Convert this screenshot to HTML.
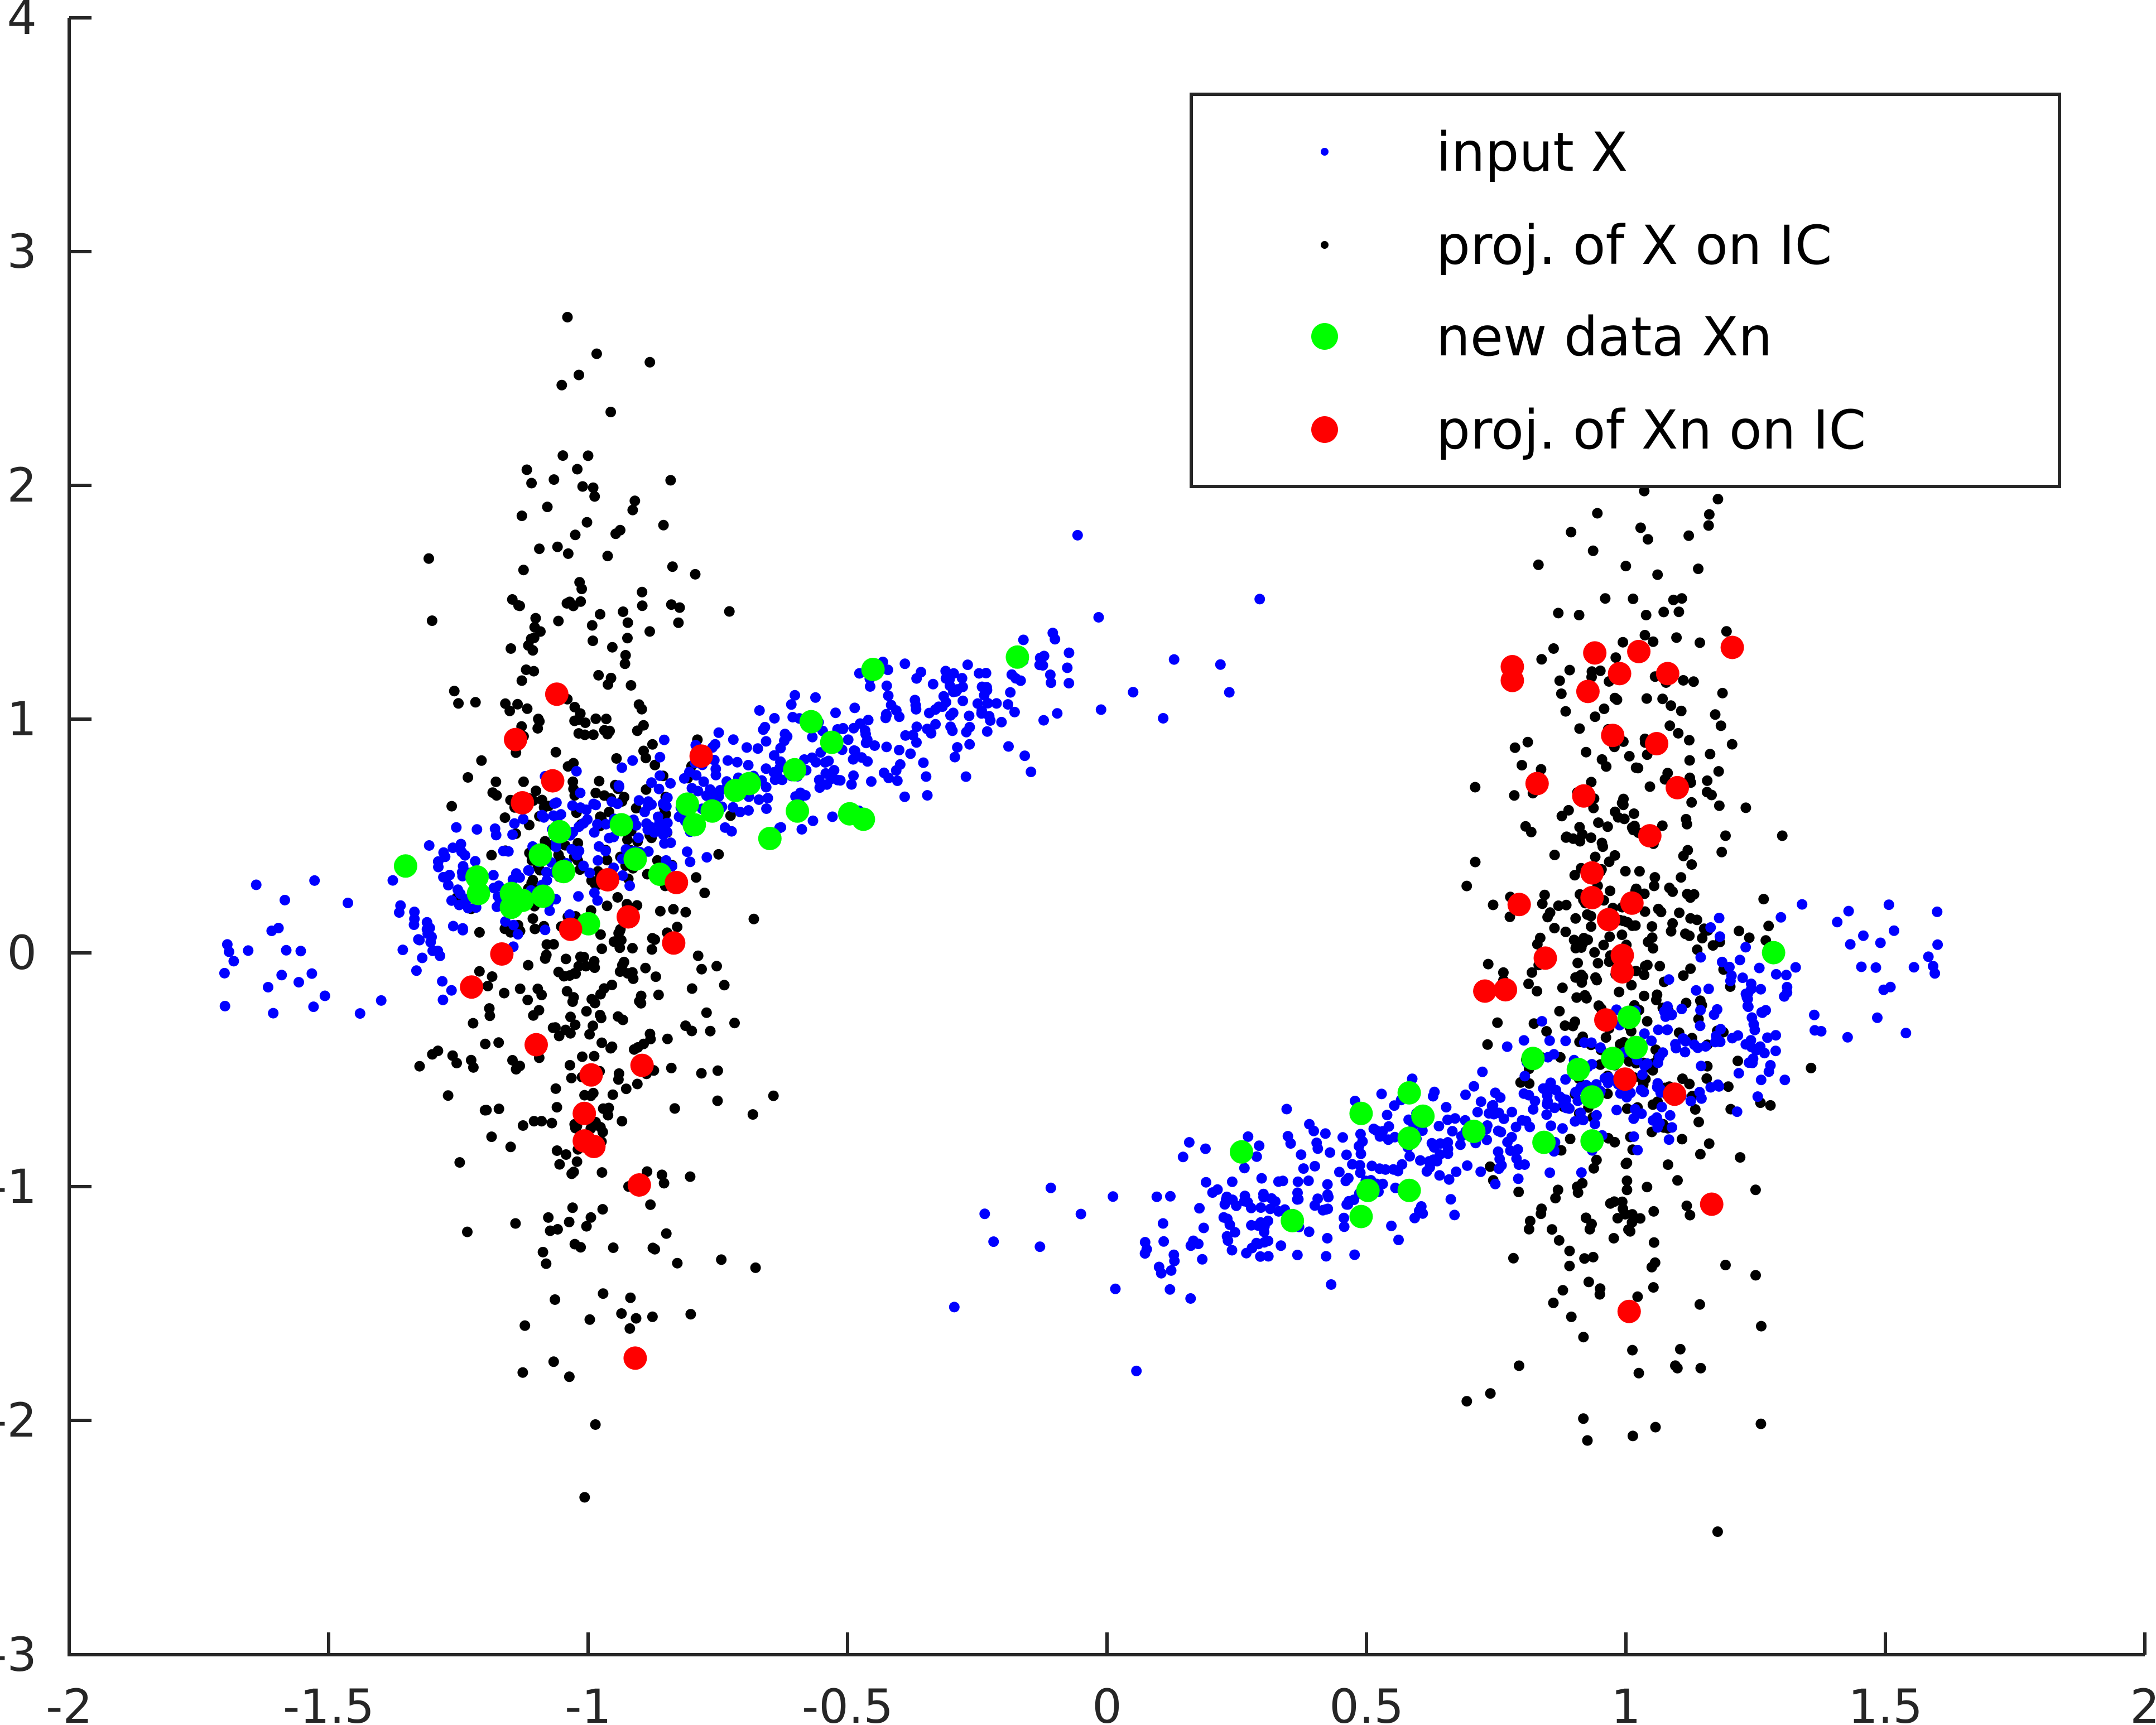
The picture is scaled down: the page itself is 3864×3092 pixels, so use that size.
<!DOCTYPE html>
<html><head><meta charset="utf-8"><style>
html,body{margin:0;padding:0;background:#fff;}
svg{display:block;}
text{font-family:"DejaVu Sans","Liberation Sans",sans-serif;fill:#262626;}
</style></head><body>
<svg id="s" width="3864" height="3092" viewBox="0 0 3864 3092" xmlns="http://www.w3.org/2000/svg">
<rect width="3864" height="3092" fill="#fff"/>
<g id="pts"></g>
<g stroke="#262626" stroke-width="6" fill="none">
<path d="M124,32 L124,2966 L3844,2966"/>
<path d="M124,32 L164,32 M124,451 L164,451 M124,870 L164,870 M124,1289 L164,1289 M124,1708 L164,1708 M124,2127 L164,2127 M124,2546 L164,2546"/>
<path d="M589,2966 L589,2926 M1054,2966 L1054,2926 M1519,2966 L1519,2926 M1984,2966 L1984,2926 M2449,2966 L2449,2926 M2914,2966 L2914,2926 M3379,2966 L3379,2926 M3844,2966 L3844,2926"/>
</g>
<g font-size="84" text-anchor="end">
<text x="66" y="61">4</text><text x="66" y="480">3</text><text x="66" y="899">2</text><text x="66" y="1318">1</text><text x="66" y="1737">0</text><text x="66" y="2156">-1</text><text x="66" y="2575">-2</text><text x="66" y="2995">-3</text>
</g>
<g font-size="84" text-anchor="middle">
<text x="124" y="3088">-2</text><text x="589" y="3088">-1.5</text><text x="1054" y="3088">-1</text><text x="1519" y="3088">-0.5</text><text x="1984" y="3088">0</text><text x="2449" y="3088">0.5</text><text x="2914" y="3088">1</text><text x="3379" y="3088">1.5</text><text x="3844" y="3088">2</text>
</g>
<g id="big"></g>
<rect x="2135" y="169" width="1556" height="703" fill="#fff" stroke="#262626" stroke-width="6"/>
<circle cx="2374" cy="272" r="7" fill="#0000ff"/>
<circle cx="2374" cy="439" r="7" fill="#000"/>
<circle cx="2374" cy="603" r="24" fill="#00ff00"/>
<circle cx="2374" cy="770" r="24" fill="#ff0000"/>
<g font-size="96">
<text x="2574" y="306" style="fill:#000">input X</text>
<text x="2574" y="473" style="fill:#000">proj. of X on IC</text>
<text x="2574" y="637" style="fill:#000">new data Xn</text>
<text x="2574" y="804" style="fill:#000">proj. of Xn on IC</text>
</g>
</svg>
<script>
(function(){
var s=123456789;function r(){s^=s<<13;s^=s>>>17;s^=s<<5;return ((s>>>0)%1000000)/1000000;}
function n(){var u=r()||1e-6,v=r();return Math.sqrt(-2*Math.log(u))*Math.cos(2*Math.PI*v);}
function X(x){return 124+(x+2)*930;}function Y(y){return 32+(4-y)*419.1;}
var ns="http://www.w3.org/2000/svg",g=document.getElementById('pts'),b=document.getElementById('big');
function c(p,x,y,rad,col){var e=document.createElementNS(ns,'circle');e.setAttribute('cx',x.toFixed(1));e.setAttribute('cy',y.toFixed(1));e.setAttribute('r',rad);e.setAttribute('fill',col);p.appendChild(e);}
var blue=[],black=[];
for(var i=0;i<420;i++){var x=-1.3+r()*1.15+n()*0.05;var y=0.33+0.8*(x+1.2)+n()*0.15;blue.push([x,y]);blue.push([-x,-y-0.05+n()*0.05]);}
for(var i=0;i<40;i++){var x=-1.75+r()*0.5;var y=n()*0.17;blue.push([x,y]);blue.push([-x-0.1,-y-0.05]);}
for(var i=0;i<15;i++){var x=-0.3+r()*0.6;var y=1.2+n()*0.18+(x+0.3)*0.3;blue.push([x,y]);blue.push([-x,-y]);}
for(var i=0;i<470;i++){black.push([-1.0+n()*0.12,0.2+n()*0.9]);black.push([1.0+n()*0.12,-0.1+n()*0.9]);}
black.forEach(function(p){if(p[1]>-2.95&&p[1]<3.9)c(g,X(p[0]),Y(p[1]),9.5,'#000');});
blue.forEach(function(p){if(p[1]>-2.95&&p[1]<3.9)c(g,X(p[0]),Y(p[1]),9.5,'#0000ff');});
var k=2.464;
var gr=[[295,630],[347,638],[348,650],[372,650],[372,660],[380,655],[395,652],[393,622],[407,605],[410,634],[428,672],[452,600],[462,625],[480,636],[500,585],[505,600],[518,590],[535,575],[545,570],[560,610],[578,560],[580,590],[590,525],[605,540],[618,592],[628,596],[635,487],[740,478],[903,838],[940,888],[990,810],[995,866],[990,885],[1025,795],[1025,828],[1025,866],[1035,812],[1072,823],[1115,770],[1123,831],[1148,778],[1158,798],[1158,830],[1173,770],[1185,740],[1190,762],[1290,693]];
var rd=[[405,505],[375,538],[380,584],[402,568],[365,694],[343,718],[390,760],[430,782],[425,810],[425,830],[432,834],[467,775],[465,862],[462,988],[415,676],[442,640],[457,667],[490,686],[492,642],[510,550],[1100,485],[1100,495],[1160,475],[1192,474],[1178,490],[1213,490],[1260,471],[1155,503],[1173,535],[1205,541],[1220,573],[1118,570],[1152,579],[1200,608],[1158,635],[1158,653],[1187,657],[1170,669],[1105,658],[1124,697],[1180,695],[1180,707],[1080,721],[1095,720],[1168,742],[1182,785],[1218,796],[1245,876],[1185,954]];
gr.forEach(function(p){c(b,p[0]*k,p[1]*k,21,'#00ff00');});
rd.forEach(function(p){c(b,p[0]*k,p[1]*k,21,'#ff0000');});
})();
</script>
</body></html>
